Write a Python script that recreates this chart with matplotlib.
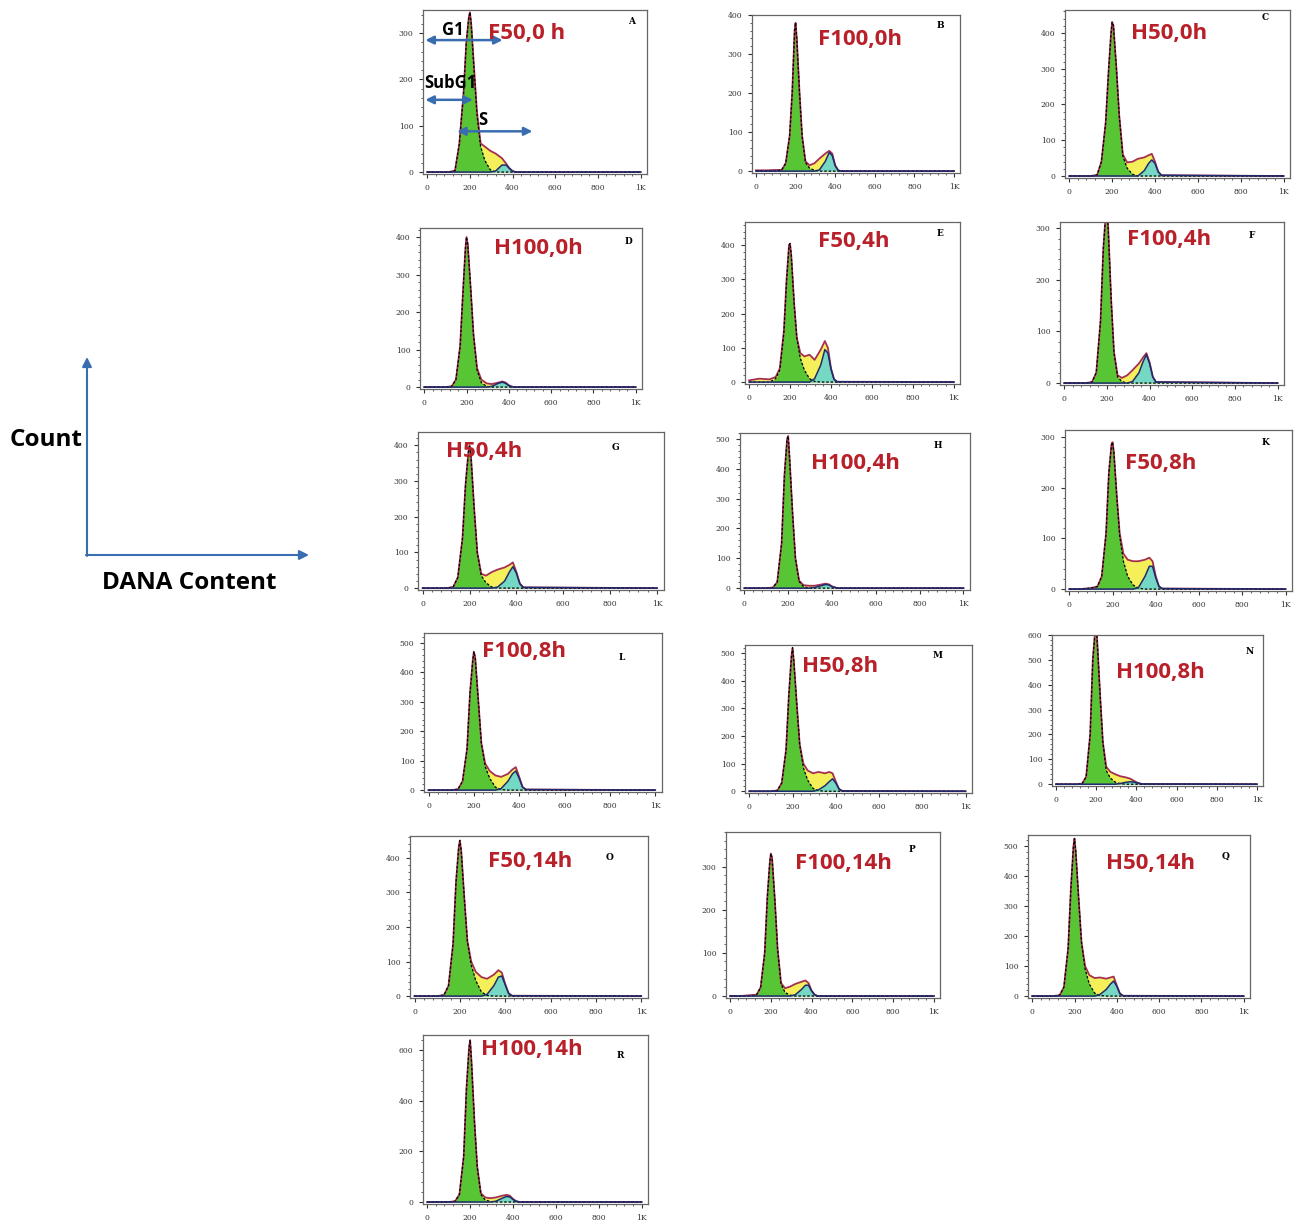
import numpy as np
import matplotlib.pyplot as plt
from matplotlib.patches import FancyArrowPatch
from matplotlib.ticker import MultipleLocator, AutoMinorLocator, FixedLocator, FixedFormatter

# DNA content channel grid (shared by every panel)
dna = [0, 50, 100, 130, 150, 170, 183, 195, 200, 206, 220, 233, 250, 270, 295, 320, 350, 370, 385, 400, 415, 430, 1000]

letters = ["A", "B", "C", "D", "E", "F", "G", "H", "K", "L", "M", "N", "O", "P", "Q", "R"]
titles = ["F50,0 h", "F100,0h", "H50,0h", "H100,0h", "F50,4h", "F100,4h", "H50,4h", "H100,4h",
          "F50,8h", "F100,8h", "H50,8h", "H100,8h", "F50,14h", "F100,14h", "H50,14h", "H100,14h"]

# total histogram envelope
total = {
    "A": [0, 0, 0, 3, 60, 170, 280, 335, 345, 320, 220, 130, 62, 55, 46, 40, 30, 18, 8, 2, 0, 0, 0],
    "B": [2, 2, 3, 3, 20, 90, 200, 360, 380, 340, 200, 90, 25, 15, 20, 32, 45, 52, 45, 15, 2, 0, 0],
    "C": [0, 0, 0, 3, 40, 150, 290, 400, 430, 420, 300, 170, 60, 38, 40, 48, 52, 58, 62, 40, 12, 2, 0],
    "D": [0, 0, 0, 2, 20, 110, 250, 370, 400, 380, 260, 140, 50, 20, 10, 8, 12, 15, 12, 5, 1, 0, 0],
    "E": [5, 10, 8, 15, 40, 150, 300, 400, 405, 370, 230, 130, 85, 75, 80, 65, 95, 120, 100, 40, 8, 1, 0],
    "F": [0, 0, 0, 2, 20, 120, 260, 330, 340, 300, 160, 60, 15, 10, 15, 25, 38, 50, 58, 40, 12, 2, 0],
    "G": [0, 0, 0, 3, 30, 140, 290, 380, 400, 370, 220, 100, 40, 35, 45, 52, 58, 65, 72, 45, 12, 2, 0],
    "H": [0, 0, 0, 2, 20, 150, 380, 500, 510, 440, 250, 100, 25, 10, 8, 8, 12, 15, 13, 6, 2, 0, 0],
    "K": [0, 0, 2, 5, 25, 110, 230, 285, 290, 270, 180, 110, 70, 58, 55, 55, 58, 62, 55, 25, 5, 1, 0],
    "L": [0, 0, 0, 3, 30, 140, 330, 440, 470, 450, 300, 160, 90, 65, 50, 45, 55, 70, 78, 45, 10, 2, 0],
    "M": [0, 0, 0, 3, 30, 150, 350, 490, 520, 470, 310, 170, 100, 75, 65, 70, 65, 70, 65, 35, 8, 1, 0],
    "N": [0, 0, 0, 2, 30, 200, 500, 620, 640, 560, 350, 170, 70, 50, 40, 32, 27, 22, 15, 8, 3, 1, 0],
    "O": [0, 0, 0, 3, 30, 150, 330, 430, 450, 420, 280, 160, 100, 70, 55, 50, 62, 75, 68, 35, 8, 1, 0],
    "P": [0, 0, 2, 3, 20, 100, 230, 310, 330, 320, 220, 110, 30, 18, 22, 28, 33, 36, 30, 12, 3, 0, 0],
    "Q": [0, 0, 0, 3, 30, 160, 360, 500, 525, 480, 320, 180, 100, 70, 60, 62, 58, 62, 65, 35, 8, 1, 0],
    "R": [0, 0, 0, 3, 30, 180, 450, 610, 640, 560, 320, 140, 35, 18, 15, 18, 25, 28, 25, 12, 3, 0, 0],
}

# G1 peak component
g1 = {
    "A": [0, 0, 0, 3, 60, 170, 280, 335, 345, 320, 215, 125, 55, 25, 5, 0, 0, 0, 0, 0, 0, 0, 0],
    "B": [0, 0, 0, 3, 20, 90, 200, 360, 380, 340, 200, 90, 22, 8, 2, 0, 0, 0, 0, 0, 0, 0, 0],
    "C": [0, 0, 0, 3, 40, 150, 290, 400, 430, 420, 300, 170, 55, 22, 5, 0, 0, 0, 0, 0, 0, 0, 0],
    "D": [0, 0, 0, 2, 20, 110, 250, 370, 400, 380, 260, 140, 45, 12, 2, 0, 0, 0, 0, 0, 0, 0, 0],
    "E": [0, 0, 0, 10, 35, 145, 295, 400, 405, 370, 230, 130, 70, 35, 10, 2, 0, 0, 0, 0, 0, 0, 0],
    "F": [0, 0, 0, 2, 20, 120, 260, 330, 340, 300, 160, 60, 12, 3, 0, 0, 0, 0, 0, 0, 0, 0, 0],
    "G": [0, 0, 0, 3, 30, 140, 290, 380, 400, 370, 220, 100, 35, 15, 3, 0, 0, 0, 0, 0, 0, 0, 0],
    "H": [0, 0, 0, 2, 20, 150, 380, 500, 510, 440, 250, 100, 22, 5, 0, 0, 0, 0, 0, 0, 0, 0, 0],
    "K": [0, 0, 2, 5, 25, 110, 230, 285, 290, 270, 180, 105, 55, 25, 8, 2, 0, 0, 0, 0, 0, 0, 0],
    "L": [0, 0, 0, 3, 30, 140, 330, 440, 470, 450, 300, 160, 80, 40, 10, 2, 0, 0, 0, 0, 0, 0, 0],
    "M": [0, 0, 0, 3, 30, 150, 350, 490, 520, 470, 310, 170, 85, 40, 10, 2, 0, 0, 0, 0, 0, 0, 0],
    "N": [0, 0, 0, 2, 30, 200, 500, 620, 640, 560, 350, 170, 55, 25, 8, 2, 0, 0, 0, 0, 0, 0, 0],
    "O": [0, 0, 0, 3, 30, 150, 330, 430, 450, 420, 280, 160, 90, 45, 12, 2, 0, 0, 0, 0, 0, 0, 0],
    "P": [0, 0, 0, 3, 20, 100, 230, 310, 330, 320, 220, 110, 28, 8, 2, 0, 0, 0, 0, 0, 0, 0, 0],
    "Q": [0, 0, 0, 3, 30, 160, 360, 500, 525, 480, 320, 180, 90, 40, 10, 2, 0, 0, 0, 0, 0, 0, 0],
    "R": [0, 0, 0, 3, 30, 180, 450, 610, 640, 560, 320, 140, 30, 8, 2, 0, 0, 0, 0, 0, 0, 0, 0],
}

# G2 peak component
g2 = {
    "A": [0, 0, 0, 0, 0, 0, 0, 0, 0, 0, 0, 0, 0, 0, 0, 2, 15, 15, 8, 2, 0, 0, 0],
    "B": [0, 0, 0, 0, 0, 0, 0, 0, 0, 0, 0, 0, 0, 0, 0, 3, 25, 48, 40, 14, 2, 0, 0],
    "C": [0, 0, 0, 0, 0, 0, 0, 0, 0, 0, 0, 0, 0, 0, 0, 0, 15, 35, 45, 35, 12, 2, 0],
    "D": [0, 0, 0, 0, 0, 0, 0, 0, 0, 0, 0, 0, 0, 0, 0, 2, 10, 13, 10, 4, 1, 0, 0],
    "E": [0, 0, 0, 0, 0, 0, 0, 0, 0, 0, 0, 0, 0, 0, 0, 10, 50, 95, 85, 38, 8, 1, 0],
    "F": [0, 0, 0, 0, 0, 0, 0, 0, 0, 0, 0, 0, 0, 0, 0, 3, 20, 42, 55, 38, 12, 2, 0],
    "G": [0, 0, 0, 0, 0, 0, 0, 0, 0, 0, 0, 0, 0, 0, 0, 3, 20, 45, 60, 42, 12, 2, 0],
    "H": [0, 0, 0, 0, 0, 0, 0, 0, 0, 0, 0, 0, 0, 0, 0, 2, 8, 12, 11, 5, 2, 0, 0],
    "K": [0, 0, 0, 0, 0, 0, 0, 0, 0, 0, 0, 0, 0, 0, 0, 3, 25, 45, 45, 22, 5, 1, 0],
    "L": [0, 0, 0, 0, 0, 0, 0, 0, 0, 0, 0, 0, 0, 0, 0, 5, 30, 55, 65, 40, 10, 2, 0],
    "M": [0, 0, 0, 0, 0, 0, 0, 0, 0, 0, 0, 0, 0, 0, 0, 5, 20, 35, 45, 30, 8, 1, 0],
    "N": [0, 0, 0, 0, 0, 0, 0, 0, 0, 0, 0, 0, 0, 0, 0, 3, 8, 10, 9, 6, 3, 1, 0],
    "O": [0, 0, 0, 0, 0, 0, 0, 0, 0, 0, 0, 0, 0, 0, 0, 5, 30, 55, 58, 33, 8, 1, 0],
    "P": [0, 0, 0, 0, 0, 0, 0, 0, 0, 0, 0, 0, 0, 0, 0, 3, 15, 25, 25, 12, 3, 0, 0],
    "Q": [0, 0, 0, 0, 0, 0, 0, 0, 0, 0, 0, 0, 0, 0, 0, 5, 22, 40, 50, 33, 8, 1, 0],
    "R": [0, 0, 0, 0, 0, 0, 0, 0, 0, 0, 0, 0, 0, 0, 0, 3, 15, 22, 20, 10, 3, 0, 0],
}

# y axis top and tick step per panel
y_top = {"A": 350, "B": 400, "C": 464, "D": 424, "E": 468, "F": 312, "G": 437, "H": 520,
         "K": 314, "L": 534, "M": 530, "N": 600, "O": 463, "P": 380, "Q": 537, "R": 660}
y_step = {"R": 200}
x_ticks = [0, 200, 400, 600, 800, 1000]
x_labels = ["0", "200", "400", "600", "800", "1K"]

# layout in pixels: frame (left, top, right, bottom), title centre, letter position
W, H = 1299, 1224
frames = {
    "A": (423, 10, 647, 174), "B": (752, 15, 960, 173), "C": (1065, 10, 1290, 178),
    "D": (420, 228, 642, 389), "E": (745, 222, 960, 384), "F": (1060, 222, 1284, 385),
    "G": (418, 432, 664, 590), "H": (740, 433, 970, 590), "K": (1065, 430, 1292, 591),
    "L": (424, 633, 662, 792), "M": (745, 645, 972, 793), "N": (1052, 635, 1263, 786),
    "O": (410, 836, 648, 998), "P": (726, 832, 940, 998), "Q": (1028, 835, 1250, 998),
    "R": (423, 1035, 648, 1204),
}
title_pos = {
    "A": (527, 33), "B": (860, 40), "C": (1169, 33), "D": (538, 249), "E": (854, 242),
    "F": (1169, 240), "G": (484, 452), "H": (855, 464), "K": (1161, 464), "L": (524, 652),
    "M": (840, 667), "N": (1160, 672), "O": (530, 862), "P": (843, 863), "Q": (1150, 863),
    "R": (532, 1049),
}
letter_pos = {
    "A": (632, 22), "B": (940, 25), "C": (1265, 18), "D": (628, 242), "E": (940, 233),
    "F": (1252, 236), "G": (615, 447), "H": (938, 446), "K": (1266, 442), "L": (622, 657),
    "M": (938, 655), "N": (1250, 652), "O": (610, 858), "P": (912, 850), "Q": (1226, 856),
    "R": (620, 1055),
}

GREEN = "#58c534"
YELLOW = "#f5f05a"
CYAN = "#74d8c4"
RED = "#b8202a"
ARROW = "#3a6db0"


def fx(px):
    return px / W


def fy(py):
    return 1 - py / H


fig = plt.figure(figsize=(W / 100, H / 100), dpi=100)

axes = {}
for let, title in zip(letters, titles):
    l, t, r, b = frames[let]
    ax = fig.add_axes([fx(l), fy(b), (r - l) / W, (b - t) / H])
    axes[let] = ax
    tot = np.array(total[let])
    c1 = np.array(g1[let])
    c2 = np.array(g2[let])

    ax.fill_between(dna, 0, tot, color=YELLOW, lw=0)
    ax.fill_between(dna, 0, c1, color=GREEN, lw=0)
    ax.fill_between(dna, 0, c2, color=CYAN, lw=0)
    ax.plot(dna, tot, color="#a4304e", lw=1.3)
    ax.plot(dna, c1, color="black", lw=0.9, ls=(0, (2, 1.5)))
    ax.plot(dna, c2, color="#1c2a70", lw=1.1)

    top = y_top[let]
    ax.set_xlim(-20, 1030)
    ax.set_ylim(-top * 0.012, top)
    ax.xaxis.set_major_locator(FixedLocator(x_ticks))
    ax.xaxis.set_major_formatter(FixedFormatter(x_labels))
    ax.yaxis.set_major_locator(MultipleLocator(y_step.get(let, 100)))
    ax.xaxis.set_minor_locator(MultipleLocator(40))
    ax.yaxis.set_minor_locator(AutoMinorLocator(5))
    ax.tick_params(which="major", length=3, width=0.8, labelsize=5.5, colors="#333333", pad=4)
    ax.tick_params(which="minor", length=1.5, width=0.6, colors="#444444")
    for lab in ax.get_xticklabels() + ax.get_yticklabels():
        lab.set_family("DejaVu Serif")
    for sp in ax.spines.values():
        sp.set_color("#666666")
        sp.set_linewidth(0.9)

    tx, ty = title_pos[let]
    fig.text(fx(tx), fy(ty), title, color=RED, fontsize=16, fontweight="bold",
             family="Open Sans", ha="center", va="center")
    lx, ly = letter_pos[let]
    fig.text(fx(lx), fy(ly), let, color="black", fontsize=6.5, fontweight="bold",
             family="DejaVu Serif", ha="center", va="center")

# phase annotations on panel A
axA = axes["A"]
for (x0, x1, yv) in [(-9, 353, 285), (-9, 214, 156), (140, 493, 88)]:
    axA.annotate("", xy=(x0, yv), xytext=(x1, yv), xycoords="data",
                 arrowprops=dict(arrowstyle="<|-|>", color=ARROW, lw=1.8,
                                 mutation_scale=12, shrinkA=0, shrinkB=0),
                 annotation_clip=False)
axA.text(121, 306, "G1", fontsize=12, fontweight="bold", family="Open Sans", ha="center", va="center")
axA.text(107, 193, "SubG1", fontsize=12, fontweight="bold", family="Open Sans", ha="center", va="center")
axA.text(260, 113, "S", fontsize=12, fontweight="bold", family="Open Sans", ha="center", va="center")

# count / DNA content key on the left
fig.add_artist(FancyArrowPatch((fx(87), fy(556)), (fx(87), fy(357)), transform=fig.transFigure,
                               arrowstyle="-|>", color=ARROW, lw=1.5, mutation_scale=14,
                               shrinkA=0, shrinkB=0))
fig.add_artist(FancyArrowPatch((fx(86), fy(555)), (fx(309), fy(555)), transform=fig.transFigure,
                               arrowstyle="-|>", color=ARROW, lw=1.5, mutation_scale=14,
                               shrinkA=0, shrinkB=0))
fig.text(fx(46), fy(440), "Count", fontsize=17.5, fontweight="bold", family="Open Sans",
         ha="center", va="center")
fig.text(fx(189), fy(583), "DANA Content", fontsize=17.5, fontweight="bold", family="Open Sans",
         ha="center", va="center")

plt.savefig("out.png", dpi=100)
